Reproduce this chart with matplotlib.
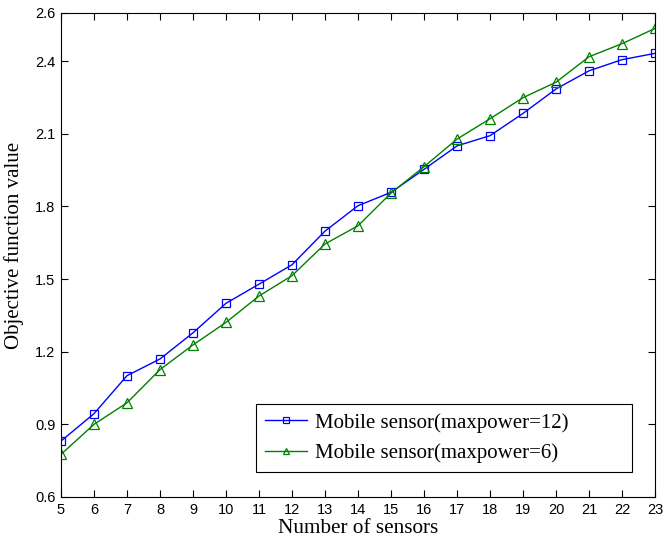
import matplotlib
matplotlib.use("Agg")
import matplotlib.pyplot as plt

sensors = list(range(5, 24))
maxpower_12 = [0.831, 0.944, 1.101, 1.170, 1.278, 1.400, 1.479, 1.559, 1.698, 1.803,
               1.858, 1.953, 2.050, 2.092, 2.184, 2.285, 2.360, 2.406, 2.432]
maxpower_6 = [0.776, 0.900, 0.989, 1.126, 1.228, 1.321, 1.430, 1.514, 1.645, 1.720,
              1.855, 1.964, 2.078, 2.162, 2.249, 2.313, 2.418, 2.472, 2.535]
yticks = [0.6, 0.9, 1.2, 1.5, 1.8, 2.1, 2.4, 2.6]

fig = plt.figure(figsize=(6.63, 5.44), dpi=100)
ax = fig.add_axes([0.092, 0.0864, 0.896, 0.8903])

ax.plot(sensors, maxpower_12, color='#0000ff', lw=1, marker='s', ms=5.5,
        mfc='none', mew=0.9, label='Mobile sensor(maxpower=12)')
ax.plot(sensors, maxpower_6, color='#008000', lw=1, marker='^', ms=7.5,
        mfc='none', mew=0.9, label='Mobile sensor(maxpower=6)')

ax.set_xlim(5, 23)
ax.set_ylim(0.6, 2.6)
ax.set_xticks(sensors)
ax.set_yticks(yticks)
ax.set_yticklabels([f'{v:.1f}' for v in yticks])
ax.tick_params(direction='in', top=True, right=True, length=5, width=0.8,
               labelsize=10.5, pad=4)
for lab in ax.get_xticklabels() + ax.get_yticklabels():
    lab.set_family('Liberation Sans')
for s in ax.spines.values():
    s.set_linewidth(0.8)

ax.set_xlabel('Number of sensors', family='Liberation Serif', fontsize=15.3, labelpad=2)
ax.set_ylabel('Objective function value', family='Liberation Serif', fontsize=15, labelpad=4)
ax.yaxis.set_label_coords(-0.062, 0.52)

leg = ax.legend(loc='lower left', bbox_to_anchor=(0.328, 0.051, 0.633, 0.142), mode='expand',
                prop={'family': 'Liberation Serif', 'size': 15}, fancybox=False,
                framealpha=1, edgecolor='black', borderaxespad=0, handlelength=2.0,
                handletextpad=0.4, labelspacing=0.5, borderpad=0.45)
leg.get_frame().set_linewidth(0.8)
for h in leg.legend_handles:
    h.set_markersize(4.5)

fig.savefig('out.png', dpi=100)
